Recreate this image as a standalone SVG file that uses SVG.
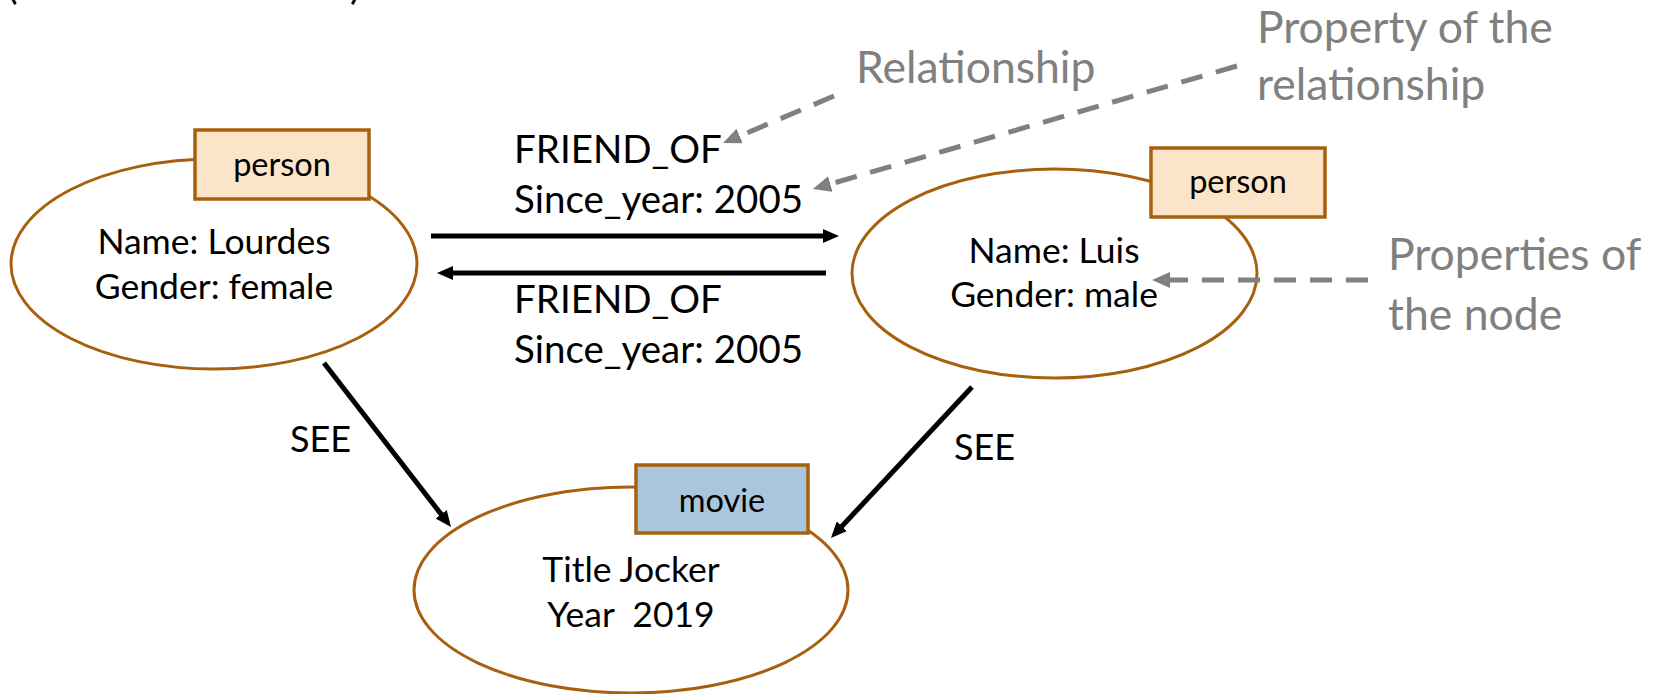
<svg xmlns="http://www.w3.org/2000/svg" width="1658" height="694" viewBox="0 0 1658 694">
  <style>
    .node { fill: #ffffff; stroke: #a8600f; stroke-width: 3; }
    .tag-person { fill: #fce4c9; stroke: #a8600f; stroke-width: 3.5; }
    .tag-movie { fill: #a9c6dc; stroke: #a8600f; stroke-width: 3.5; }
    .txt { font-family: Lato, "Open Sans", "Liberation Sans", sans-serif; fill: #000000; }
    .prop { font-size: 35.5px; text-anchor: middle; }
    .tag { font-size: 32.5px; text-anchor: middle; }
    .rel { font-size: 38.5px; }
    .see { font-size: 36px; }
    .note { font-family: Lato, "Open Sans", "Liberation Sans", sans-serif; font-size: 44.5px; fill: #808080; }
    .edge { stroke: #000000; stroke-width: 5; fill: none; }
    .hint { stroke: #808080; stroke-width: 5; fill: none; stroke-dasharray: 22 14; }
  </style>
  <defs>
    <marker id="headBlack" markerUnits="userSpaceOnUse" markerWidth="16" markerHeight="14" refX="1" refY="7" orient="auto">
      <path d="M0,0 L16,7 L0,14 z" fill="#000000"/>
    </marker>
    <marker id="headGray" markerUnits="userSpaceOnUse" markerWidth="18" markerHeight="16" refX="1" refY="8" orient="auto">
      <path d="M0,0 L18,8 L0,16 z" fill="#808080"/>
    </marker>
  </defs>

  <rect x="0" y="0" width="1658" height="694" fill="#ffffff"/>

  <!-- bracket fragments along the top edge -->
  <text class="txt" x="7" y="-1" font-size="40">(</text>
  <text class="txt" x="350" y="-1" font-size="40">)</text>

  <!-- person: Lourdes -->
  <g id="node-lourdes">
    <ellipse class="node" cx="214" cy="264" rx="203" ry="105"/>
    <rect class="tag-person" x="195" y="130" width="174" height="69"/>
    <text class="txt tag" x="282" y="176">person</text>
    <text class="txt prop" x="214" y="254">Name: Lourdes</text>
    <text class="txt prop" x="214" y="299">Gender: female</text>
  </g>

  <!-- person: Luis -->
  <g id="node-luis">
    <ellipse class="node" cx="1054.5" cy="273.5" rx="202.5" ry="104.5"/>
    <rect class="tag-person" x="1151" y="148" width="174" height="69"/>
    <text class="txt tag" x="1238" y="193">person</text>
    <text class="txt prop" x="1054" y="263">Name: Luis</text>
    <text class="txt prop" x="1054" y="307">Gender: male</text>
  </g>

  <!-- movie: Jocker -->
  <g id="node-movie">
    <ellipse class="node" cx="631" cy="590" rx="217" ry="103"/>
    <rect class="tag-movie" x="636" y="465" width="172" height="68"/>
    <text class="txt tag" x="722" y="512">movie</text>
    <text class="txt prop" x="631" y="582">Title Jocker</text>
    <text class="txt prop" x="631" y="627" xml:space="preserve">Year  2019</text>
  </g>

  <!-- relationships and annotation pointers -->
  <g id="connectors">
    <line class="edge" x1="431" y1="236" x2="824" y2="236" marker-end="url(#headBlack)"/>
    <line class="edge" x1="826" y1="273" x2="452" y2="273" marker-end="url(#headBlack)"/>
    <line class="edge" x1="324" y1="363" x2="441.8" y2="515.1" marker-end="url(#headBlack)"/>
    <line class="edge" x1="972" y1="387" x2="841.2" y2="527" marker-end="url(#headBlack)"/>

    <line class="hint" x1="834" y1="96" x2="738.7" y2="136.4" marker-end="url(#headGray)"/>
    <line class="hint" x1="1237" y1="66" x2="829.3" y2="184.3" marker-end="url(#headGray)"/>
    <line class="hint" x1="1368" y1="280" x2="1169" y2="280" marker-end="url(#headGray)"/>
  </g>

  <!-- relationship labels -->
  <g id="labels">
    <text class="txt rel" x="514" y="163">FRIEND_OF</text>
    <text class="txt rel" x="514" y="213">Since_year: 2005</text>
    <text class="txt rel" x="514" y="313">FRIEND_OF</text>
    <text class="txt rel" x="514" y="363">Since_year: 2005</text>
    <text class="txt see" x="290" y="452">SEE</text>
    <text class="txt see" x="954" y="460">SEE</text>
  </g>

  <!-- annotations -->
  <g id="notes">
    <text class="note" x="856" y="83">Relationship</text>
    <text class="note" x="1257" y="43">Property of the</text>
    <text class="note" x="1257" y="100">relationship</text>
    <text class="note" x="1388" y="270">Properties of</text>
    <text class="note" x="1388" y="330">the node</text>
  </g>
</svg>
